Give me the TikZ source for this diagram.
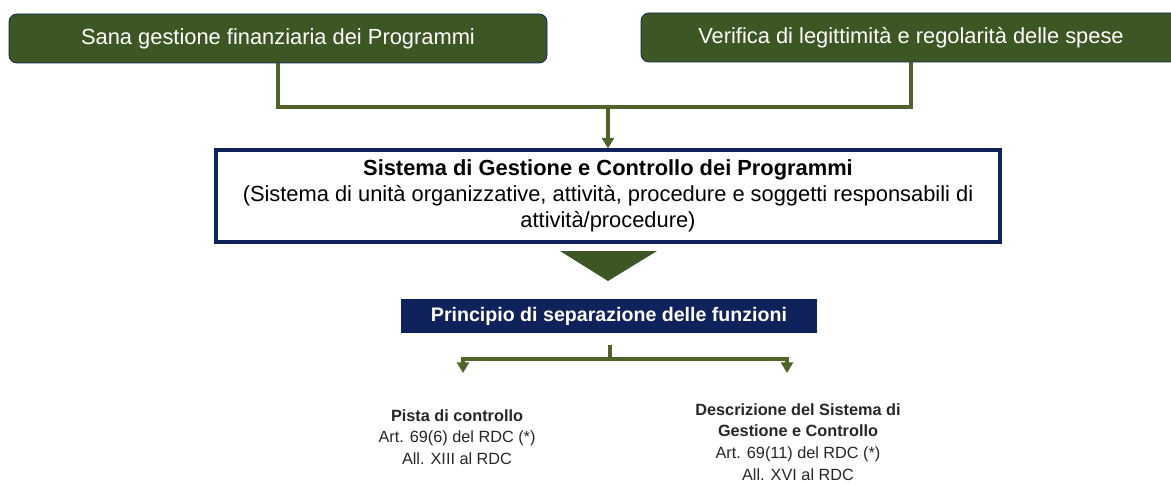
\documentclass[tikz,border=0pt]{standalone}
\usepackage{fontspec}
\setmainfont{Liberation Sans}
\usetikzlibrary{arrows.meta}

\definecolor{verdescuro}{RGB}{60,87,35}
\definecolor{verdelinea}{RGB}{79,98,40}
\definecolor{blunavy}{RGB}{16,34,92}

\tikzset{
  obiettivo/.style={rectangle, rounded corners=6pt, fill=verdescuro, draw=blunavy, line width=0.6pt,
    text=white, inner sep=0pt, font=\fontsize{16.4}{19.5}\selectfont},
  sistema/.style={rectangle, draw=blunavy, line width=2.3pt, fill=white, align=center,
    inner sep=0pt, font=\fontsize{16.4}{19.5}\selectfont},
  principio/.style={rectangle, fill=blunavy, text=white, inner sep=0pt,
    font=\fontsize{14.7}{17}\selectfont\bfseries},
  riferimento/.style={align=center, inner sep=0pt, text=black!85,
    font=\fontsize{12.2}{16.3}\selectfont},
  conn/.style={draw=verdelinea, line width=2.3pt},
  freccia/.style={conn, -{Triangle[width=9pt,length=8pt]}},
}

\begin{document}
\begin{tikzpicture}[x=0.75pt, y=-0.75pt]
  \clip (0,0) rectangle (1171,485);
  % obiettivi
  \node[obiettivo, minimum width=538*0.75pt, minimum height=49*0.75pt] (sana) at (278,38.5) {Sana gestione finanziaria dei Programmi};
  \node[obiettivo, minimum width=540*0.75pt, minimum height=49*0.75pt] (verif) at (911,37.5) {Verifica di legittimità e regolarità delle spese};

  % sistema di gestione e controllo
  \node[sistema, minimum width=784*0.75pt, minimum height=92*0.75pt] (sgc) at (608,196)
    {\textbf{Sistema di Gestione e Controllo dei Programmi}\\(Sistema di unità organizzative, attività, procedure e soggetti responsabili di\\attività/procedure)};

  \coordinate (giunto) at (608,107);
  \draw[conn] (sana.south) |- (giunto) -| (verif.south);
  \draw[freccia] (giunto) -- (sgc.north);

  % triangolo
  \fill[verdescuro] (560,251) -- (657,251) -- (608,281) -- cycle;

  \node[principio, minimum width=416*0.75pt, minimum height=34*0.75pt] (psf) at (609,316) {Principio di separazione delle funzioni};

  % diramazione
  \coordinate (attacco) at (610,345);
  \coordinate (biv) at (610,359);
  \coordinate (sx) at (463,373);
  \coordinate (dx) at (787,373);
  \draw[conn] (attacco) -- (biv);
  \draw[freccia] (biv) -| (sx);
  \draw[freccia] (biv) -| (dx);

  % riferimenti
  \node[riferimento] (pista) at (457,437) {\textbf{Pista di controllo}\\Art. 69(6) del RDC (*)\\All. XIII al RDC};
  \node[riferimento] (descr) at (798,442) {\textbf{Descrizione del Sistema di}\\\textbf{Gestione e Controllo}\\Art. 69(11) del RDC (*)\\All. XVI al RDC};
\end{tikzpicture}
\end{document}
